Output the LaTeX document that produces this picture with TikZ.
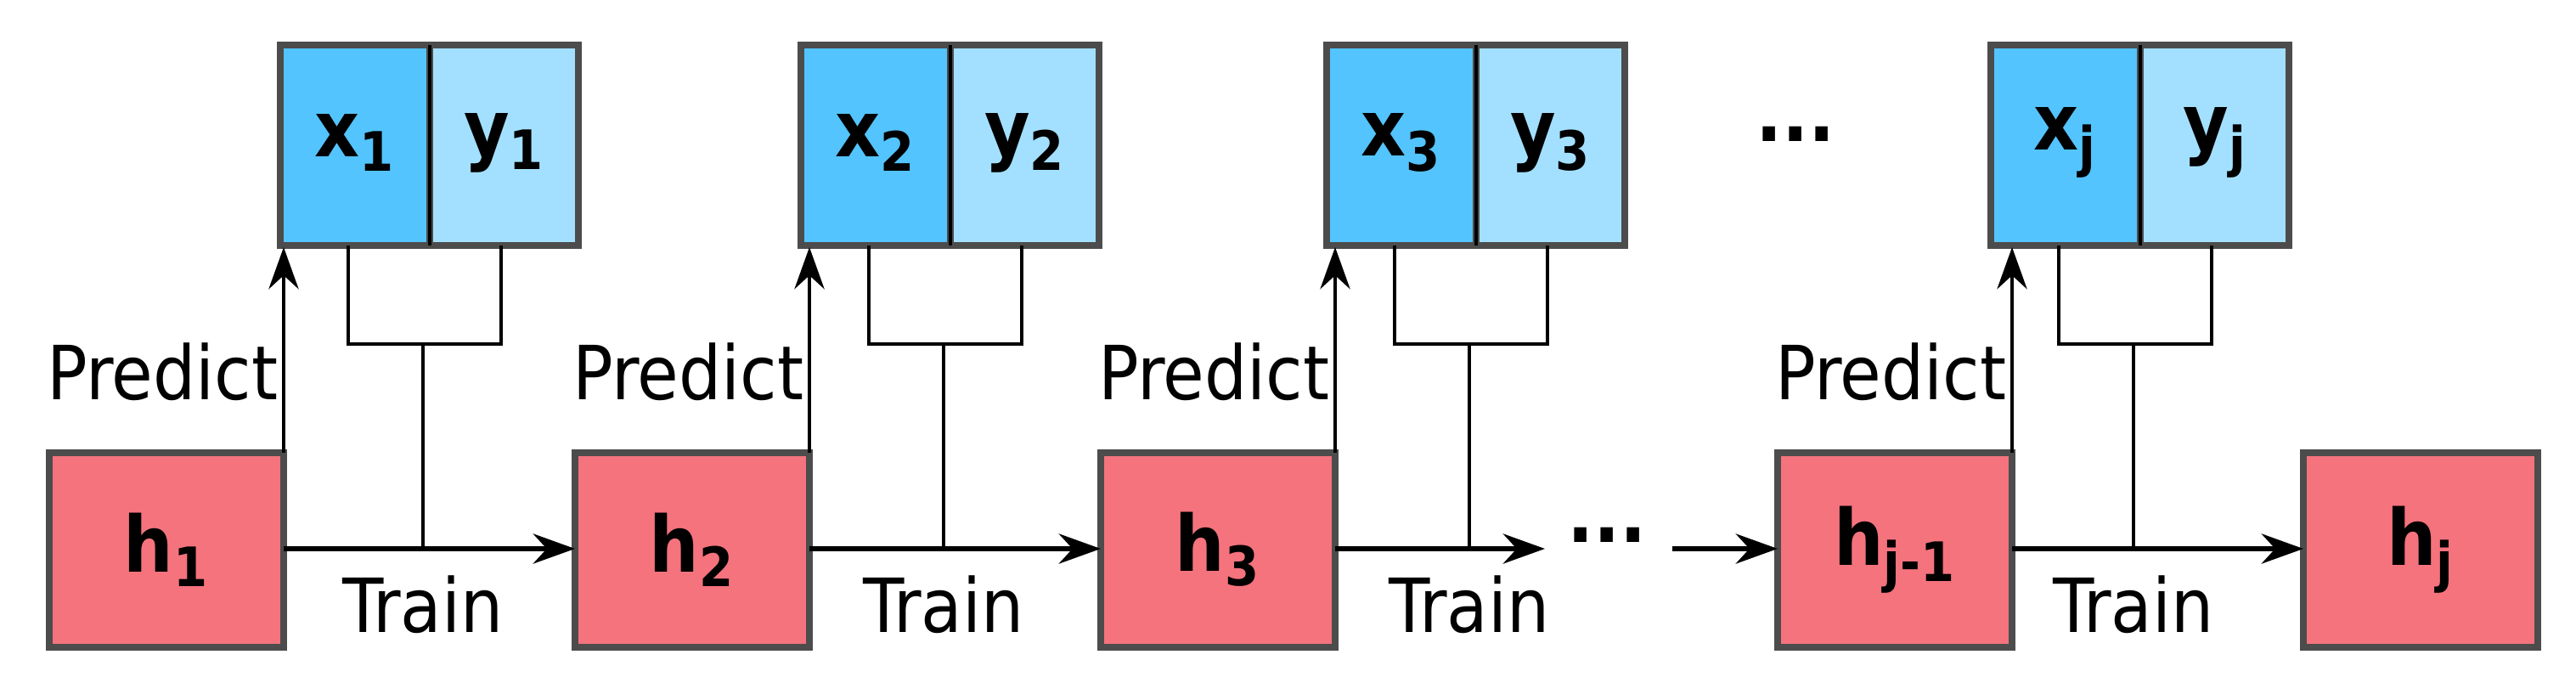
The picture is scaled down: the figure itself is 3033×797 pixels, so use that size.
\documentclass[tikz,border=0pt]{standalone}
\usepackage{fontspec}
\setmainfont{DejaVu Sans Condensed}
\usetikzlibrary{arrows.meta}
\begin{document}
\begin{tikzpicture}[x=0.01cm,y=-0.01cm,
 hbox/.style={draw=black!70,line width=2.2pt,fill=hred,minimum width=276\pgflinewidth,inner sep=0},
 lbl/.style={font=\fontsize{26}{30}\selectfont\bfseries},
 txt/.style={font=\fontsize{25}{30}\selectfont},
 arr/.style={-{Stealth[length=14pt,width=10pt]},line width=1.6pt},
 ln/.style={line width=1.2pt}]
\definecolor{hred}{HTML}{F4737D}
\definecolor{dblue}{HTML}{53C4FD}
\definecolor{lblue}{HTML}{A3E0FF}
\useasboundingbox (0,0) rectangle (3033,797);
% h boxes
\foreach \n/\l/\t in {1/58/{h\textsubscript{1}},2/677/{h\textsubscript{2}},3/1296/{h\textsubscript{3}},4/2093/{h\textsubscript{j-1}},5/2712/{h\textsubscript{j}}}{
  \path[draw=black!70,line width=2.2pt,fill=hred] (\l,533) rectangle ++(276,229);
  \node[lbl] (h\n) at (\l+138,647) {\t};
  \coordinate (hl\n) at (\l,646);
  \coordinate (hr\n) at (\l+276,646);
}
% xy boxes
\foreach \n/\l/\a/\b in {1/330/1/1,2/943/2/2,3/1562/3/3,4/2344/j/j}{
  \path[draw=black!70,line width=2.2pt,fill=dblue] (\l,53) rectangle ++(176,236);
  \path[draw=black!70,line width=2.2pt,fill=lblue] (\l+176,53) rectangle ++(175,236);
  \draw[ln] (\l+176,53) -- (\l+176,289);
  \node[lbl] (x\n) at (\l+88,168) {x\textsubscript{\a}};
  \node[lbl] (y\n) at (\l+264,168) {y\textsubscript{\b}};
  \coordinate (bl\n) at (\l,289);
  \coordinate (la\n) at (\l+80,289);
  \coordinate (lb\n) at (\l+260,289);
  \coordinate (st\n) at (\l+168,405);
  \draw[ln] (la\n) -- (\l+80,405) -- (\l+260,405) -- (lb\n);
}
% predict arrows
\foreach \n/\x in {1/334,2/953,3/1572,4/2369}{
  \draw[arr,line width=1.2pt] (\x,533) -- (\x,291);
  \node[txt,anchor=south east,inner sep=0] (p\n) at (\x-6,472) {Predict};
}
% train arrows
\draw[arr] (hr1) -- (hl2);
\draw[arr] (hr2) -- (hl3);
\draw[arr] (hr3) -- (1819,646) coordinate (e3);
\coordinate (s4) at (1969,646);
\draw[arr] (s4) -- (hl4);
\draw[arr] (hr4) -- (hl5);
\foreach \n/\x in {1/498,2/1111,3/1730,4/2512}{
  \draw[ln] (st\n) -- (\x,646);
  \node[txt] (t\n) at (\x,712) {Train};
}
\node[lbl] (d1) at (2114,158) {...};
\node[lbl] (d2) at (1892,630) {...};
\end{tikzpicture}
\end{document}
